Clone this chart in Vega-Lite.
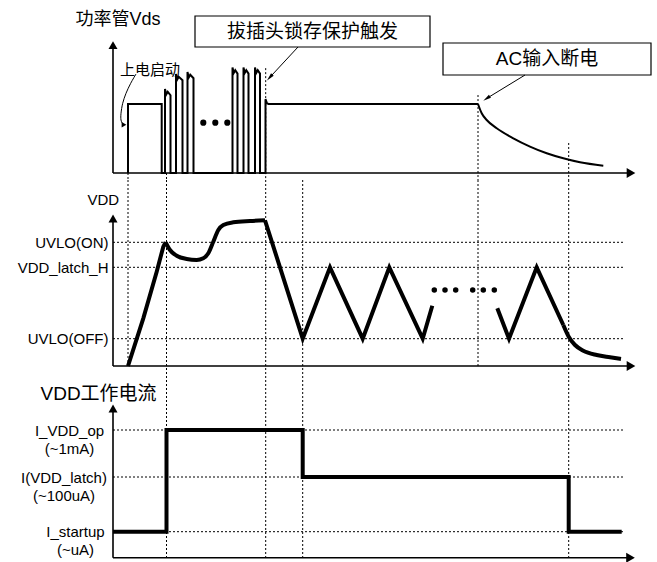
{
  "$schema": "https://vega.github.io/schema/vega-lite/v6.json",
  "padding": {"left": 17, "top": 0, "right": 0, "bottom": 0},
  "spacing": 0,
  "bounds": "flush",
  "config": {
    "view": {"stroke": null},
    "font": "Liberation Sans, Noto Sans CJK SC",
    "axis": {"labelColor": "black", "titleColor": "black", "titleFontWeight": "normal"}
  },
  "vconcat": [
    {
      "width": 544,
      "height": 180,
      "encoding": {
        "x": {"field": "t", "type": "quantitative", "scale": {"domain": [0, 108.8], "nice": false, "zero": false}, "axis": null},
        "y": {"field": "v", "type": "quantitative", "scale": {"domain": [-10.14, 250.72], "nice": false, "zero": false},
          "axis": {"title": "功率管Vds", "labels": false, "ticks": false, "domain": false, "grid": false,
            "titleAngle": 0, "titleAlign": "left", "titleBaseline": "middle", "titleX": -38, "titleY": 19, "titleFontSize": 18}}
      },
      "layer": [
        {
          "data": {"values": [
            {"t": 3, "v": 0, "v2": -10.14},
            {"t": 10.7, "v": 0, "v2": -10.14},
            {"t": 30.54, "v": 152, "v2": -10.14},
            {"t": 73, "v": 113, "v2": -10.14},
            {"t": 91.14, "v": 43.5, "v2": -10.14}
          ]},
          "mark": {"type": "rule", "strokeDash": [2, 2], "strokeWidth": 1, "color": "black"},
          "encoding": {"y2": {"field": "v2"}}
        },
        {
          "data": {"values": [
            {"t": 0, "v": 0, "t2": 0, "v2": 185.2},
            {"t": 0, "v": 0, "t2": 103.6, "v2": 0}
          ]},
          "mark": {"type": "rule", "strokeWidth": 1.6, "color": "black"},
          "encoding": {"x2": {"field": "t2"}, "y2": {"field": "v2"}}
        },
        {
          "data": {"values": [{"t": 0, "v": 185.2}]},
          "mark": {"type": "point", "shape": "triangle-up", "size": 81, "filled": true, "color": "black", "opacity": 1}
        },
        {
          "data": {"values": [{"t": 103.6, "v": 0}]},
          "mark": {"type": "point", "shape": "triangle-right", "size": 100, "filled": true, "color": "black", "opacity": 1}
        },
        {
          "data": {"values": [
            {"i": 0, "t": 3, "v": 0}, {"i": 1, "t": 3, "v": 100}, {"i": 2, "t": 9.74, "v": 100}, {"i": 3, "t": 9.74, "v": 0},
            {"i": 4, "t": 10.4, "v": 0}, {"i": 5, "t": 10.4, "v": 121.7}, {"i": 6, "t": 10.65, "v": 113.7}, {"i": 7, "t": 10.95, "v": 117.7}, {"i": 8, "t": 11.5, "v": 112.7}, {"i": 9, "t": 11.5, "v": 0},
            {"i": 10, "t": 12.6, "v": 0}, {"i": 11, "t": 12.6, "v": 143.5}, {"i": 12, "t": 12.85, "v": 135.5}, {"i": 13, "t": 13.15, "v": 139.5}, {"i": 14, "t": 13.9, "v": 134.5}, {"i": 15, "t": 13.9, "v": 0},
            {"i": 16, "t": 14.9, "v": 0}, {"i": 17, "t": 14.9, "v": 146.4}, {"i": 18, "t": 15.15, "v": 138.4}, {"i": 19, "t": 15.45, "v": 142.4}, {"i": 20, "t": 16.1, "v": 137.4}, {"i": 21, "t": 16.1, "v": 0},
            {"i": 22, "t": 23.9, "v": 0}, {"i": 23, "t": 23.9, "v": 153}, {"i": 24, "t": 24.15, "v": 145}, {"i": 25, "t": 24.45, "v": 149}, {"i": 26, "t": 24.9, "v": 144}, {"i": 27, "t": 24.9, "v": 0},
            {"i": 28, "t": 26.1, "v": 0}, {"i": 29, "t": 26.1, "v": 153}, {"i": 30, "t": 26.35, "v": 145}, {"i": 31, "t": 26.65, "v": 149}, {"i": 32, "t": 27.1, "v": 144}, {"i": 33, "t": 27.1, "v": 0},
            {"i": 34, "t": 28.4, "v": 0}, {"i": 35, "t": 28.4, "v": 153}, {"i": 36, "t": 28.65, "v": 145}, {"i": 37, "t": 28.95, "v": 149}, {"i": 38, "t": 29.4, "v": 144}, {"i": 39, "t": 29.4, "v": 0},
            {"i": 40, "t": 30.5, "v": 0}, {"i": 41, "t": 30.5, "v": 107}, {"i": 42, "t": 30.8, "v": 101}, {"i": 43, "t": 31.1, "v": 100}, {"i": 44, "t": 73, "v": 100}
          ]},
          "mark": {"type": "line", "color": "black", "strokeWidth": 2},
          "encoding": {"order": {"field": "i"}}
        },
        {
          "data": {"values": [
            {"t": 73, "v": 100}, {"t": 73.74, "v": 86.5}, {"t": 74.74, "v": 76.8}, {"t": 76.74, "v": 64.8}, {"t": 80.06, "v": 50.3},
            {"t": 83.4, "v": 38.3}, {"t": 86.74, "v": 28.6}, {"t": 90.06, "v": 21.3}, {"t": 93.4, "v": 15.5}, {"t": 98.06, "v": 10.6}
          ]},
          "mark": {"type": "line", "color": "black", "strokeWidth": 2, "interpolate": "monotone"}
        },
        {
          "data": {"values": [{"t": 18.06, "v": 72.9}, {"t": 20.46, "v": 72.9}, {"t": 22.86, "v": 72.9}]},
          "mark": {"type": "point", "shape": "circle", "size": 38, "filled": true, "color": "black", "opacity": 1}
        },
        {
          "data": {"values": [{"t": 7.4, "v": 148.6, "label": "上电启动"}]},
          "mark": {"type": "text", "fontSize": 15, "font": "Noto Sans CJK SC", "align": "center", "baseline": "middle", "color": "black"},
          "encoding": {"text": {"field": "label"}}
        },
        {
          "data": {"values": [
            {"i": 0, "t": 4.6, "v": 143.5}, {"i": 1, "t": 3.54, "v": 130}, {"i": 2, "t": 2.6, "v": 115.5}, {"i": 3, "t": 1.94, "v": 101},
            {"i": 4, "t": 1.6, "v": 86.5}, {"i": 5, "t": 1.6, "v": 76.8}, {"i": 6, "t": 1.9, "v": 71.7}
          ]},
          "mark": {"type": "line", "color": "black", "strokeWidth": 1, "interpolate": "cardinal"},
          "encoding": {"order": {"field": "i"}}
        },
        {
          "data": {"values": [{"t": 2.2, "v": 69.9}]},
          "mark": {"type": "point", "shape": "triangle-right", "size": 30, "filled": true, "color": "black", "opacity": 1}
        },
        {
          "data": {"values": [
            {"t": 16.4, "t2": 63.4, "v": 227.5, "v2": 182.6},
            {"t": 66, "t2": 107.6, "v": 188.4, "v2": 142}
          ]},
          "mark": {"type": "rect", "fill": "white", "stroke": "black", "strokeWidth": 1.2},
          "encoding": {"x2": {"field": "t2"}, "y2": {"field": "v2"}}
        },
        {
          "data": {"values": [
            {"t": 39.9, "v": 205, "label": "拔插头锁存保护触发"},
            {"t": 86.8, "v": 165.2, "label": "AC输入断电"}
          ]},
          "mark": {"type": "text", "fontSize": 19, "align": "center", "baseline": "middle", "color": "black"},
          "encoding": {"text": {"field": "label"}}
        },
        {
          "data": {"values": [
            {"t": 37, "v": 182.6, "t2": 31.34, "v2": 138.4},
            {"t": 82.4, "v": 142, "t2": 74.72, "v2": 108}
          ]},
          "mark": {"type": "rule", "strokeWidth": 1, "color": "black"},
          "encoding": {"x2": {"field": "t2"}, "y2": {"field": "v2"}}
        },
        {
          "data": {"values": [{"t": 31.34, "v": 138.4}]},
          "mark": {"type": "point", "shape": "M0,-1L0.45,1L-0.45,1Z", "size": 64, "angle": 222.3, "filled": true, "color": "black", "opacity": 1}
        },
        {
          "data": {"values": [{"t": 74.72, "v": 108}]},
          "mark": {"type": "point", "shape": "M0,-1L0.45,1L-0.45,1Z", "size": 64, "angle": 236.6, "filled": true, "color": "black", "opacity": 1}
        }
      ]
    },
    {
      "width": 544,
      "height": 192,
      "encoding": {
        "x": {"field": "t", "type": "quantitative", "scale": {"domain": [0, 108.8], "nice": false, "zero": false}, "axis": null},
        "y": {"field": "v", "type": "quantitative", "scale": {"domain": [-0.6, 18.6], "nice": false, "zero": false},
          "axis": {"values": [2.73, 9.87, 12.37],
            "labelExpr": "datum.value < 5 ? 'UVLO(OFF)' : datum.value < 11 ? 'VDD_latch_H' : 'UVLO(ON)'",
            "ticks": false, "tickSize": 0, "domain": false, "grid": false,
            "labelPadding": 5, "labelFontSize": 15, "labelFont": "Liberation Sans", "labelOverlap": false, "labelFlush": false,
            "title": "VDD", "titleAngle": 0, "titleAlign": "left", "titleBaseline": "middle", "titleX": -26, "titleY": 19, "titleFontSize": 15, "titleFont": "Liberation Sans"}}
      },
      "layer": [
        {
          "data": {"values": [
            {"t": 0, "t2": 102, "v": 2.73},
            {"t": 0, "t2": 102, "v": 9.87},
            {"t": 0, "t2": 102, "v": 12.37}
          ]},
          "mark": {"type": "rule", "strokeDash": [2, 2], "strokeWidth": 1, "color": "black"},
          "encoding": {"x2": {"field": "t2"}}
        },
        {
          "data": {"values": [
            {"t": 3, "v": 18.6, "v2": 0},
            {"t": 10.7, "v": 18.6, "v2": -0.6},
            {"t": 30.54, "v": 18.6, "v2": -0.6},
            {"t": 37.94, "v": 18.6, "v2": -0.6},
            {"t": 73, "v": 18.6, "v2": 0},
            {"t": 91.14, "v": 18.6, "v2": -0.6}
          ]},
          "mark": {"type": "rule", "strokeDash": [2, 2], "strokeWidth": 1, "color": "black"},
          "encoding": {"y2": {"field": "v2"}}
        },
        {
          "data": {"values": [
            {"t": 0, "v": 0, "t2": 0, "v2": 14.75},
            {"t": 0, "v": 0, "t2": 103.6, "v2": 0}
          ]},
          "mark": {"type": "rule", "strokeWidth": 1.6, "color": "black"},
          "encoding": {"x2": {"field": "t2"}, "y2": {"field": "v2"}}
        },
        {
          "data": {"values": [{"t": 0, "v": 14.75}]},
          "mark": {"type": "point", "shape": "triangle-up", "size": 81, "filled": true, "color": "black", "opacity": 1}
        },
        {
          "data": {"values": [{"t": 103.6, "v": 0}]},
          "mark": {"type": "point", "shape": "triangle-right", "size": 100, "filled": true, "color": "black", "opacity": 1}
        },
        {
          "data": {"values": [
            {"seg": "a", "t": 3, "v": 0}, {"seg": "a", "t": 6.06, "v": 4.77}, {"seg": "a", "t": 8.74, "v": 9.43}, {"seg": "a", "t": 10.06, "v": 11.93}, {"seg": "a", "t": 10.54, "v": 12.37},
            {"seg": "c", "t": 30.4, "v": 14.57}, {"seg": "c", "t": 37.94, "v": 2.73}, {"seg": "c", "t": 43.4, "v": 9.87}, {"seg": "c", "t": 49.94, "v": 2.73}, {"seg": "c", "t": 55.26, "v": 9.87}, {"seg": "c", "t": 61.94, "v": 2.73}, {"seg": "c", "t": 63.86, "v": 6.03},
            {"seg": "d", "t": 76.86, "v": 5.77}, {"seg": "d", "t": 79.2, "v": 2.73}, {"seg": "d", "t": 84.74, "v": 9.87}, {"seg": "d", "t": 90.06, "v": 4.1}
          ]},
          "mark": {"type": "line", "color": "black", "strokeWidth": 4},
          "encoding": {"detail": {"field": "seg"}}
        },
        {
          "data": {"values": [
            {"seg": "b", "t": 10.54, "v": 12.37}, {"seg": "b", "t": 11.4, "v": 11.6}, {"seg": "b", "t": 12.74, "v": 11.03}, {"seg": "b", "t": 14.74, "v": 10.7},
            {"seg": "b", "t": 16.74, "v": 10.6}, {"seg": "b", "t": 18.06, "v": 10.77}, {"seg": "b", "t": 19.06, "v": 11.27}, {"seg": "b", "t": 20.06, "v": 12.43},
            {"seg": "b", "t": 21.06, "v": 13.6}, {"seg": "b", "t": 22.06, "v": 14.1}, {"seg": "b", "t": 24.06, "v": 14.37}, {"seg": "b", "t": 27.4, "v": 14.5}, {"seg": "b", "t": 30.4, "v": 14.57},
            {"seg": "e", "t": 90.06, "v": 4.1}, {"seg": "e", "t": 91.14, "v": 2.93}, {"seg": "e", "t": 92.4, "v": 2.1}, {"seg": "e", "t": 94.06, "v": 1.53},
            {"seg": "e", "t": 96.74, "v": 1.1}, {"seg": "e", "t": 99.4, "v": 0.87}, {"seg": "e", "t": 101.6, "v": 0.7}
          ]},
          "mark": {"type": "line", "color": "black", "strokeWidth": 4, "interpolate": "monotone"},
          "encoding": {"detail": {"field": "seg"}}
        },
        {
          "data": {"values": [
            {"t": 64.26, "v": 7.6}, {"t": 66.4, "v": 7.6}, {"t": 68.54, "v": 7.6},
            {"t": 71.94, "v": 7.6}, {"t": 74.06, "v": 7.6}, {"t": 76.26, "v": 7.6}
          ]},
          "mark": {"type": "point", "shape": "circle", "size": 30, "filled": true, "color": "black", "opacity": 1}
        }
      ]
    },
    {
      "width": 544,
      "height": 190,
      "encoding": {
        "x": {"field": "t", "type": "quantitative", "scale": {"domain": [0, 108.8], "nice": false, "zero": false}, "axis": null},
        "y": {"field": "v", "type": "quantitative", "scale": {"domain": [-0.43, 18.57], "nice": false, "zero": false},
          "axis": {"values": [2.6, 8.07, 12.77],
            "labelExpr": "datum.value < 5 ? ['I_startup', '(~uA)'] : datum.value < 10 ? ['I(VDD_latch)', '(~100uA)'] : ['I_VDD_op', '(~1mA)']",
            "ticks": false, "tickSize": 0, "domain": false, "grid": false,
            "labelAlign": "center", "labelBaseline": "middle", "labelLineHeight": 18,
            "labelPadding": {"condition": [{"test": "datum.value < 5", "value": 38}, {"test": "datum.value < 10", "value": 49.5}], "value": 44},
            "labelFontSize": 15, "labelFont": "Liberation Sans", "labelOverlap": false, "labelFlush": false,
            "title": "VDD工作电流", "titleAngle": 0, "titleAlign": "left", "titleBaseline": "middle", "titleX": -73, "titleY": 21, "titleFontSize": 19}}
      },
      "layer": [
        {
          "data": {"values": [
            {"t": 0, "t2": 102, "v": 2.6},
            {"t": 0, "t2": 102, "v": 8.07},
            {"t": 0, "t2": 102, "v": 12.77}
          ]},
          "mark": {"type": "rule", "strokeDash": [2, 2], "strokeWidth": 1, "color": "black"},
          "encoding": {"x2": {"field": "t2"}}
        },
        {
          "data": {"values": [
            {"t": 10.7, "v": 18.57, "v2": 0},
            {"t": 30.54, "v": 18.57, "v2": 0},
            {"t": 37.94, "v": 18.57, "v2": 0},
            {"t": 91.14, "v": 18.57, "v2": 0}
          ]},
          "mark": {"type": "rule", "strokeDash": [2, 2], "strokeWidth": 1, "color": "black"},
          "encoding": {"y2": {"field": "v2"}}
        },
        {
          "data": {"values": [
            {"t": 0, "v": 0, "t2": 0, "v2": 14.92},
            {"t": 0, "v": 0, "t2": 103.5, "v2": 0}
          ]},
          "mark": {"type": "rule", "strokeWidth": 1.6, "color": "black"},
          "encoding": {"x2": {"field": "t2"}, "y2": {"field": "v2"}}
        },
        {
          "data": {"values": [{"t": 0, "v": 14.92}]},
          "mark": {"type": "point", "shape": "triangle-up", "size": 81, "filled": true, "color": "black", "opacity": 1}
        },
        {
          "data": {"values": [{"t": 103.5, "v": 0}]},
          "mark": {"type": "point", "shape": "triangle-right", "size": 100, "filled": true, "color": "black", "opacity": 1}
        },
        {
          "data": {"values": [
            {"i": 0, "t": 0, "v": 2.6}, {"i": 1, "t": 10.7, "v": 2.6}, {"i": 2, "t": 10.7, "v": 12.77}, {"i": 3, "t": 37.94, "v": 12.77},
            {"i": 4, "t": 37.94, "v": 8.07}, {"i": 5, "t": 91.14, "v": 8.07}, {"i": 6, "t": 91.14, "v": 2.6}, {"i": 7, "t": 101.74, "v": 2.6}
          ]},
          "mark": {"type": "line", "color": "black", "strokeWidth": 4},
          "encoding": {"order": {"field": "i"}}
        }
      ]
    }
  ]
}
